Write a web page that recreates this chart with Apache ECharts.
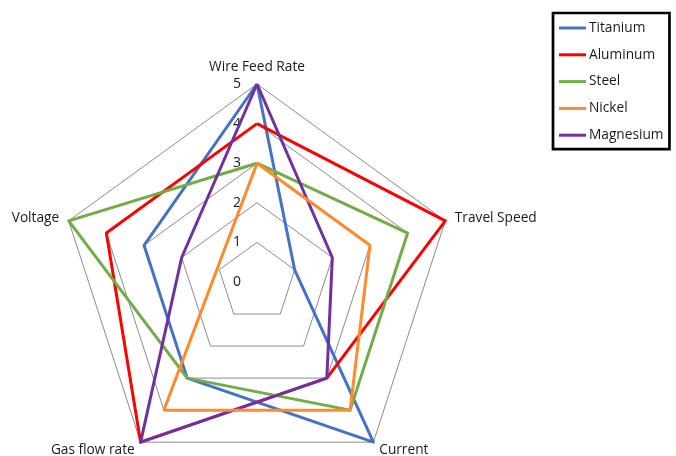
<!DOCTYPE html>
<html>
<head>
<meta charset="utf-8">
<script src="https://cdn.jsdelivr.net/npm/echarts@6/dist/echarts.min.js"></script>
<style>
  html, body { margin: 0; padding: 0; background: #fff; }
  #chart { width: 676px; height: 456px; }
</style>
</head>
<body>
<div id="chart"></div>
<script>
// Welding parameters per material, scored 0-5 (listed clockwise from the top)
const indicators = ['Wire Feed Rate', 'Travel Speed', 'Current', 'Gas flow rate', 'Voltage'];
const seriesNames = ['Titanium', 'Aluminum', 'Steel', 'Nickel', 'Magnesium'];
const titanium  = [5, 1, 5, 3, 3];
const aluminum  = [4, 5, 3, 5, 4];
const steel     = [3, 4, 4, 3, 5];
const nickel    = [3, 3, 4, 4, null];   // no voltage value
const magnesium = [5, 2, 3, 5, 2];
const scaleMin = 0, scaleMax = 5, scaleStep = 1;

const colors = ['#4472C4', '#FF0000', '#70AD47', '#FF8A2B', '#7030A0'];
const font = 'Open Sans';
const textColor = '#1a1a1a';

// ECharts radar runs counter-clockwise; reorder so the spokes run clockwise
const order = [0, 4, 3, 2, 1];
const ccw = arr => order.map(i => arr[i]);

const chart = echarts.init(document.getElementById('chart'), null, { renderer: 'canvas' });
const cx = 257, cy = 282, R = 198;

const radarSeries = [
  { name: 'Titanium', values: titanium, color: colors[0] },
  { name: 'Aluminum', values: aluminum, color: colors[1] },
  { name: 'Steel', values: steel, color: colors[2] },
  { name: 'Magnesium', values: magnesium, color: colors[4] }
];

// Nickel has a gap, so it is drawn as a polar line that skips the missing spoke.
// The angle axis counts spokes (0..n); spoke n coincides with spoke 0 and closes the loop.
const nickelPoints = nickel
  .map((v, i) => v == null ? null : [v, i])
  .filter(p => p !== null);
nickelPoints.push([nickelPoints[0][0], indicators.length]);

chart.setOption({
  animation: false,
  backgroundColor: '#fff',
  textStyle: { fontFamily: font },
  legend: {
    orient: 'vertical',
    left: 553, top: 13,
    padding: [8, 6, 7, 6],
    itemGap: 12.8,
    itemWidth: 27, itemHeight: 3,
    icon: 'rect',
    borderColor: '#000', borderWidth: 2.7,
    textStyle: { fontSize: 13.7, color: textColor, fontFamily: font, padding: [0, 0, 0, -2] },
    data: seriesNames
  },
  radar: {
    center: [cx, cy],
    radius: R,
    startAngle: 90,
    shape: 'polygon',
    splitNumber: 5,
    indicator: ccw(indicators).map(n => ({ name: n, min: scaleMin, max: scaleMax })),
    axisName: { color: textColor, fontSize: 13.7, fontFamily: font },
    nameGap: 10,
    axisLine: { show: false },
    axisTick: { show: false },
    axisLabel: { show: false },
    splitLine: { lineStyle: { color: '#8c8c8c', width: 1 } },
    splitArea: { show: false }
  },
  // polar system sharing the radar's centre: carries the 0-5 scale and the Nickel line
  polar: { center: [cx, cy], radius: R },
  angleAxis: {
    type: 'value', min: 0, max: indicators.length,
    startAngle: 90, clockwise: true, show: false
  },
  radiusAxis: {
    min: scaleMin, max: scaleMax, interval: scaleStep,
    axisLine: { show: false }, axisTick: { show: false },
    splitLine: { show: false },
    axisLabel: { show: true, color: textColor, fontSize: 14, fontFamily: font, margin: 16 }
  },
  series: [
    {
      type: 'radar',
      symbol: 'none',
      lineStyle: { width: 3 },
      data: radarSeries.map(s => ({
        name: s.name,
        value: ccw(s.values),
        lineStyle: { color: s.color, width: 3 },
        itemStyle: { color: s.color }
      }))
    },
    {
      type: 'line',
      name: 'Nickel',
      coordinateSystem: 'polar',
      symbol: 'none',
      color: colors[3],
      lineStyle: { color: colors[3], width: 3 },
      data: nickelPoints
    }
  ]
});
</script>
</body>
</html>
